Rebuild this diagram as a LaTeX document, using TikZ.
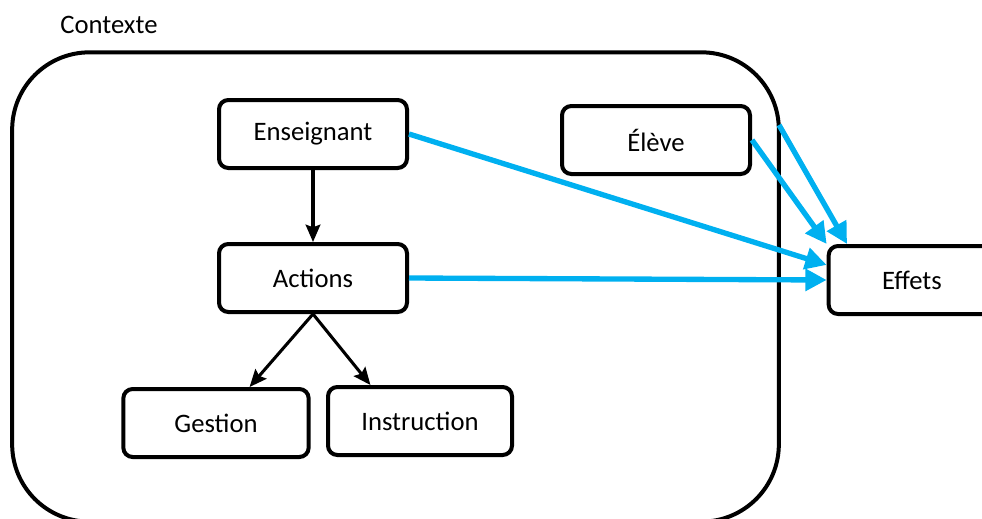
\documentclass[tikz,border=0pt]{standalone}
\usepackage{fontspec}
\setmainfont{Carlito}
\usepackage{xcolor}
\usepackage{tikz}
\usetikzlibrary{arrows.meta}
\definecolor{effblue}{RGB}{0, 176, 240}

\begin{document}
\begin{tikzpicture}[x=0.75pt,y=-0.75pt,
    font=\fontsize{20}{24}\selectfont,
    box/.style={draw,line width=3pt,rounded corners=7pt,minimum width=141pt,minimum height=51pt,inner sep=0pt},
    ctxbox/.style={draw,line width=3pt,rounded corners=58pt,minimum width=575pt,minimum height=352pt,inner sep=0pt},
    blk/.style={line width=2.3pt,-{Stealth[length=13pt,width=11pt,inset=2pt]}},
    blu/.style={effblue,line width=4pt,-{Triangle[length=16pt,width=16pt]}}]
  \useasboundingbox (0,0) rectangle (982,518);
  \clip (0,0) rectangle (982,518);
  \node (ctxlbl) at (109,25) {Contexte};
  \node[ctxbox] (ctx) at (395.5,287) {};
  \node[box] (ens) at (313,134) {Enseignant};
  \node[box] (elev) at (656,140) {Élève};
  \node[box] (act) at (313,278) {Actions};
  \node[box,minimum width=139pt] (ges) at (216,423) {Gestion};
  \node[box,minimum width=138pt] (ins) at (420,421) {Instruction};
  \node[box,minimum width=125pt] (eff) at (912,280) {Effets};
  \coordinate (ctxpt) at (779,125);
  \path[blk]
    (ens) edge (act)
    (act.south) edge (ges.47)
    (act.south) edge (ins.144);
  \path[blu]
    (ens.east) edge (eff.170)
    (act.east) edge (eff.west)
    (elev.east) edge (eff.north west)
    (ctxpt) edge (eff.151);
\end{tikzpicture}
\end{document}
